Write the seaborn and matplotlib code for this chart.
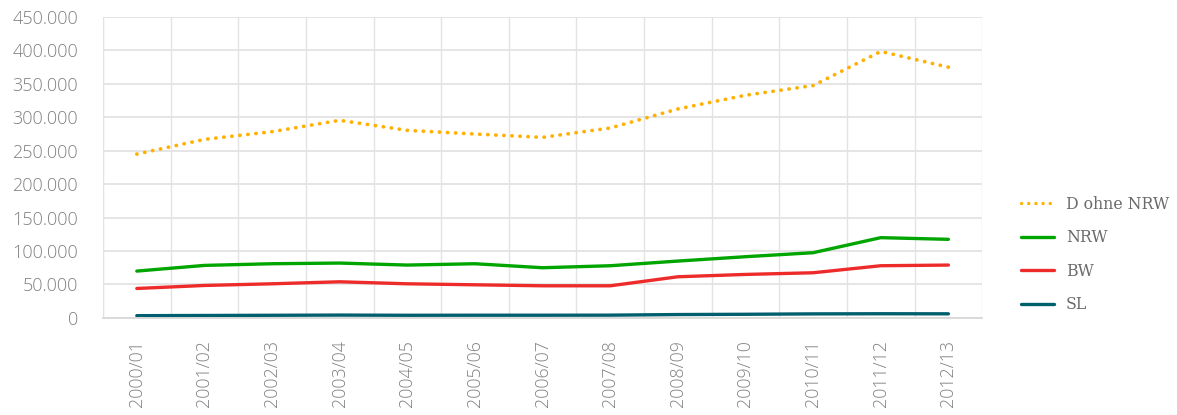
import pandas as pd
import matplotlib.pyplot as plt
import matplotlib.ticker as mticker
import seaborn as sns

# data
years = ['2000/01', '2001/02', '2002/03', '2003/04', '2004/05', '2005/06', '2006/07',
         '2007/08', '2008/09', '2009/10', '2010/11', '2011/12', '2012/13']
d_ohne_nrw = [245000, 267000, 278500, 295500, 280500, 275000, 270000,
              284000, 312500, 333000, 347500, 398500, 375000]
nrw = [70000, 78500, 81000, 82000, 79000, 81000, 75000,
       78000, 85000, 91500, 97500, 120000, 117500]
bw = [44000, 48500, 51000, 54000, 51000, 49500, 48000,
      48000, 61500, 65000, 67500, 78000, 79000]
sl = [3300, 3600, 3900, 4200, 3900, 4000, 4000,
      4100, 5000, 5400, 6000, 6200, 6100]
series = ['D ohne NRW', 'NRW', 'BW', 'SL']
colors = ['#FFB000', '#00A500', '#EE2B2B', '#005F6E']

df = pd.DataFrame({'Jahr': years, 'D ohne NRW': d_ohne_nrw, 'NRW': nrw, 'BW': bw, 'SL': sl})
df_long = df.melt(id_vars='Jahr', var_name='Reihe', value_name='Wert')

sns.set_style("white")
plt.rcParams['font.family'] = ['Open Sans', 'DejaVu Sans']
plt.rcParams['font.weight'] = 'light'
plt.rcParams['lines.dash_capstyle'] = 'round'

fig = plt.figure(figsize=(11.77, 4.15), dpi=100)
ax = fig.add_axes([0.0875, 0.234, 0.747, 0.725])

sns.lineplot(data=df_long, x='Jahr', y='Wert', hue='Reihe', style='Reihe',
             hue_order=series, style_order=series, palette=colors,
             dashes={'D ohne NRW': (0.05, 2.1), 'NRW': '', 'BW': '', 'SL': ''},
             linewidth=2.4, ax=ax, legend=True)
# dotted series a bit heavier, like the reference
ax.lines[0].set_linewidth(2.7)

ax.set_xlim(-0.5, 12.5)
ax.set_ylim(0, 450000)
ax.yaxis.set_major_locator(mticker.MultipleLocator(50000))
ax.yaxis.set_major_formatter(mticker.FuncFormatter(lambda v, p: f'{int(v):,}'.replace(',', '.')))
ax.set_xticks(range(len(years)))
ax.set_xticks([i - 0.5 for i in range(len(years) + 1)], minor=True)
ax.set_xticklabels(years, rotation=90)

ax.grid(axis='y', which='major', color='#e3e3e3', linewidth=1.3)
ax.grid(axis='x', which='minor', color='#e3e3e3', linewidth=1.0)
ax.set_axisbelow(True)
for side in ['top', 'right']:
    ax.spines[side].set_visible(False)
ax.spines['left'].set_color('#e3e3e3')
ax.spines['bottom'].set_color('#d8d8d8')
ax.spines['bottom'].set_linewidth(1.3)

ax.tick_params(axis='both', which='both', length=0)
ax.tick_params(axis='y', labelsize=13, labelcolor='#808080', pad=18)
ax.tick_params(axis='x', labelsize=12.8, labelcolor='#808080', pad=16)
ax.set_xlabel('')
ax.set_ylabel('')

leg = ax.legend(loc='center left', bbox_to_anchor=(1.028, 0.21), frameon=False,
                handlelength=2.1, handletextpad=0.75, labelspacing=1.05,
                prop={'family': 'DejaVu Serif', 'size': 11.3})
for t in leg.get_texts():
    t.set_color('#6a6a6a')
for h in leg.get_lines():
    h.set_linewidth(2.4)

fig.savefig('out.png', dpi=100)
